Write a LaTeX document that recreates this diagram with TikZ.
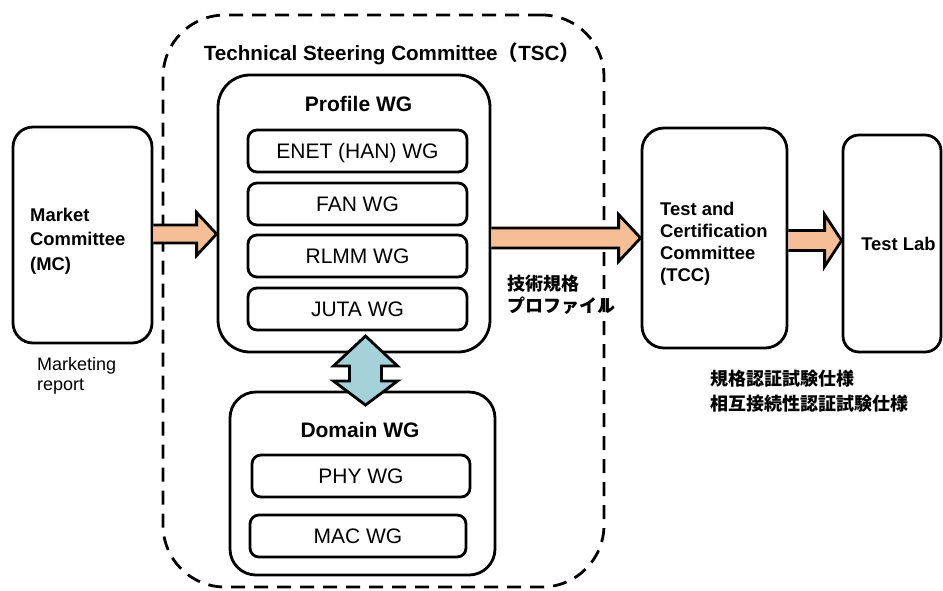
\documentclass[tikz,border=0pt]{standalone}
\usepackage{fontspec}
\setmainfont{Liberation Sans}
\newfontfamily\jp{Noto Sans CJK JP}
\usetikzlibrary{calc}
\definecolor{peach}{RGB}{246,190,150}
\definecolor{tealfill}{RGB}{164,210,216}
\newcommand\blockarr[6]{%
 \filldraw[blk] (#1.east |- 0,#3-#4)
   -- ($(#2.west |- 0,#3-#4)+(-#6,0)$)
   -- ($(#2.west |- 0,#3-#5)+(-#6,0)$)
   -- (#2.west |- 0,#3)
   -- ($(#2.west |- 0,#3+#5)+(-#6,0)$)
   -- ($(#2.west |- 0,#3+#4)+(-#6,0)$)
   -- (#1.east |- 0,#3+#4);}
\begin{document}
\begin{tikzpicture}[x=1pt,y=-1pt,
  box/.style={draw, line width=2.8pt, rounded corners=#1, inner sep=0pt},
  wg/.style={box=9pt, minimum width=219pt, minimum height=42pt,
    font=\fontsize{21}{24}\selectfont, text height=15pt, text depth=0pt},
  ttl/.style={font=\bfseries\fontsize{21}{24}\selectfont, inner sep=0pt, text height=15pt, text depth=0pt},
  lbl/.style={font=\bfseries\fontsize{18.4}{24}\selectfont, align=left, inner sep=0pt},
  note/.style={font=\fontsize{18}{20}\selectfont, align=left, inner sep=0pt, anchor=west},
  jpnote/.style={font=\jp\bfseries\fontsize{18}{22}\selectfont, align=left, inner sep=0pt, anchor=west},
  blk/.style={fill=peach, draw=black, line width=2.8pt, line join=miter},
  dbl/.style={fill=tealfill, draw=black, line width=2.8pt, line join=miter}]
\useasboundingbox (0,0) rectangle (943,590);

% TSC dashed container
\node[draw, line width=2.8pt, dash pattern=on 14pt off 9pt, rounded corners=62pt,
  minimum width=441pt, minimum height=572pt, inner sep=0pt] (tsc) at (383.5,301) {};
\node[ttl, font=\bfseries\fontsize{20.6}{24}\selectfont] (tsctitle) at (392,53) {Technical Steering Committee{\jp\bfseries （}TSC{\jp\bfseries ）}};

% Market committee
\node[box=20pt, minimum width=139pt, minimum height=216pt] (mc) at (82.5,235) {};
\node[lbl, anchor=west, font=\bfseries\fontsize{18.4}{24.5}\selectfont] (mctext) at (30,241) {Market\\Committee\\(MC)};
\node[note] (mrep) at (37,376) {Marketing\\report};

% Profile WG
\node[box=32pt, minimum width=272pt, minimum height=277pt] (profile) at (354,213.5) {};
\node[ttl] (ptitle) at (358.5,104) {Profile WG};
\node[wg] (enet) at (357.5,151) {ENET (HAN) WG};
\node[wg] (fan) at (357.5,204) {FAN WG};
\node[wg] (rlmm) at (357.5,256) {RLMM WG};
\node[wg] (juta) at (357.5,309) {JUTA WG};

% Domain WG
\node[box=26pt, minimum width=265pt, minimum height=183pt] (domain) at (362.5,483.5) {};
\node[ttl] (dtitle) at (360,430) {Domain WG};
\node[wg, minimum width=218pt] (phy) at (361,476) {PHY WG};
\node[wg, minimum width=216pt] (mac) at (358,536) {MAC WG};

% TCC and Test Lab
\node[box=22pt, minimum width=145pt, minimum height=220pt] (tcc) at (714.5,238) {};
\node[lbl, anchor=west, font=\bfseries\fontsize{18.4}{22}\selectfont] (tcctext) at (660,244) {Test and\\Certification\\Committee\\(TCC)};
\node[box=16pt, minimum width=98pt, minimum height=217pt] (tl) at (892,243.5) {};
\node[lbl, text height=13pt, text depth=0pt] (tltext) at (898.5,243.5) {Test Lab};

% notes
\node[jpnote] (spec) at (507,294.5) {技術規格\\プロファイル};
\node[jpnote, font=\jp\bfseries\fontsize{18}{25}\selectfont] (tspec) at (710,391) {規格認証試験仕様\\相互接続性認証試験仕様};

% block arrows
\blockarr{mc}{profile}{234}{9}{21.5}{20}
\blockarr{profile}{tcc}{238}{10}{23.5}{22}
\blockarr{tcc}{tl}{240.5}{10}{26}{17}

% double arrow between Profile WG and Domain WG
\draw[dbl] (365.5,336) -- (397.5,366) -- (381.5,366) -- (381.5,381) -- (397.5,381)
  -- (365.5,405) -- (333.5,381) -- (349.5,381) -- (349.5,366) -- (333.5,366) -- cycle;
\end{tikzpicture}
\end{document}
